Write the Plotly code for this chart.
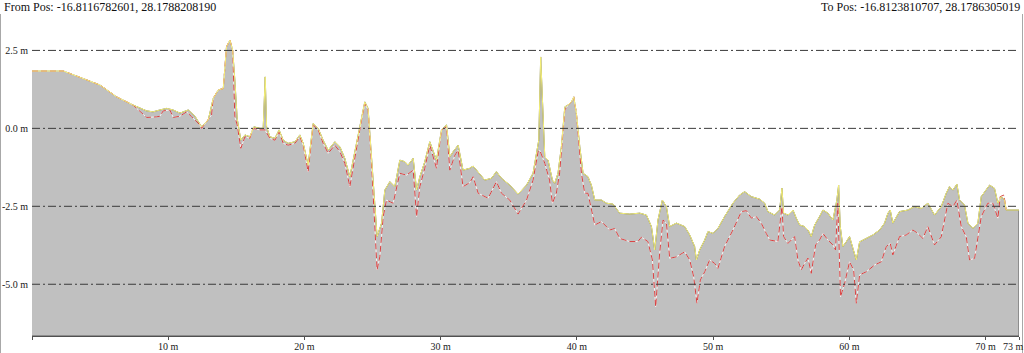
import plotly.graph_objects as go

# ---------------- data (metres) ----------------
DIST_TOP = [
    0.00, 2.30, 3.74, 4.99, 6.21, 7.41, 8.42, 8.88, 9.39, 9.88,
    10.35, 10.86, 11.47, 11.96, 12.45, 12.94, 13.30, 13.67, 14.04, 14.28,
    14.53, 14.73, 14.89, 15.06, 15.33, 15.63, 15.99, 16.29, 16.73, 16.97,
    17.12, 17.22, 17.46, 17.83, 18.14, 18.44, 18.80, 19.30, 19.66, 19.91,
    20.27, 20.64, 21.01, 21.37, 21.74, 22.23, 22.60, 22.96, 23.33, 23.70,
    24.19, 24.43, 24.67, 24.92, 25.17, 25.33, 25.66, 25.90, 26.27, 26.63,
    27.00, 27.37, 27.61, 27.98, 28.23, 28.47, 28.83, 29.20, 29.69, 30.06,
    30.43, 30.67, 30.91, 31.28, 31.64, 32.14, 32.38, 32.75, 33.24, 33.73,
    34.09, 34.46, 35.07, 35.68, 36.30, 36.78, 37.03, 37.20, 37.34, 37.47,
    37.64, 37.88, 38.20, 38.37, 38.61, 38.86, 39.11, 39.35, 39.60, 39.77,
    39.96, 40.21, 40.45, 40.81, 41.06, 41.31, 41.80, 42.16, 42.65, 43.14,
    43.87, 44.61, 45.10, 45.47, 45.71, 45.95, 46.27, 46.57, 46.81, 47.30,
    47.91, 48.28, 48.64, 48.77, 49.01, 49.38, 49.62, 49.99, 50.35, 50.84,
    51.45, 51.94, 52.31, 52.80, 53.41, 53.78, 54.02, 54.51, 54.88, 55.05,
    55.17, 55.49, 55.86, 56.10, 56.35, 56.71, 56.96, 57.20, 57.45, 57.81,
    58.06, 58.42, 58.79, 59.08, 59.21, 59.33, 59.52, 59.77, 60.01, 60.26,
    60.51, 60.75, 61.24, 61.72, 62.22, 62.58, 62.83, 63.00, 63.19, 63.68,
    64.29, 64.78, 65.28, 65.76, 66.25, 66.74, 67.11, 67.35, 67.60, 67.89,
    68.09, 68.45, 68.70, 69.06, 69.43, 69.68, 70.29, 70.65, 70.90, 71.15,
    71.39, 71.51, 72.45,
]
ELEV_TOP = [
    1.84, 1.84, 1.60, 1.39, 1.01, 0.75, 0.56, 0.53, 0.59, 0.64,
    0.59, 0.49, 0.59, 0.39, 0.05, 0.27, 0.96, 1.23, 1.28, 2.62,
    2.83, 2.51, 1.55, 0.32, -0.38, -0.21, -0.27, 0.05, 0.00, 0.00,
    1.65, 0.05, -0.27, -0.32, -0.05, -0.38, -0.48, -0.43, -0.21, -0.48,
    -1.18, 0.16, 0.00, -0.38, -0.70, -0.43, -0.59, -0.96, -1.55, -0.70,
    0.37, 0.85, 0.64, -0.91, -2.40, -3.47, -3.04, -1.98, -1.71, -1.87,
    -1.02, -1.07, -1.18, -0.96, -1.98, -1.55, -1.07, -0.43, -1.02, -0.05,
    0.11, -0.91, -0.75, -0.54, -1.34, -1.28, -1.21, -1.39, -1.66, -1.60,
    -1.39, -1.60, -1.82, -2.11, -1.82, -1.44, -0.80, -0.38, 2.29, 0.69,
    -0.91, -1.02, -1.66, -1.76, -1.44, -0.59, 0.69, 0.75, 0.85, 1.01,
    0.48, -0.59, -1.44, -1.55, -1.82, -2.30, -2.30, -2.40, -2.43, -2.72,
    -2.75, -2.72, -2.78, -3.15, -3.90, -2.94, -2.30, -2.51, -3.15, -3.04,
    -3.15, -3.42, -3.79, -4.22, -3.90, -3.58, -3.31, -3.37, -3.21, -2.83,
    -2.40, -2.14, -2.03, -2.19, -2.27, -2.40, -2.67, -2.78, -2.62, -1.92,
    -2.72, -2.78, -2.62, -2.88, -3.10, -3.15, -3.26, -3.47, -3.10, -2.83,
    -2.62, -2.72, -2.94, -2.30, -1.82, -3.15, -3.79, -3.64, -3.47, -3.85,
    -4.22, -3.64, -3.53, -3.42, -3.26, -3.04, -2.72, -2.62, -3.04, -2.67,
    -2.62, -2.51, -2.57, -2.40, -2.78, -2.51, -2.08, -1.87, -1.98, -1.79,
    -2.30, -2.46, -3.04, -3.21, -3.04, -2.19, -1.82, -1.92, -2.40, -2.19,
    -2.30, -2.62, -2.62,
]

DIST_BOT = [
    0.00, 2.30, 3.74, 4.99, 6.21, 7.41, 8.42, 8.88, 9.15, 9.39,
    9.63, 10.12, 10.37, 10.86, 11.35, 11.72, 12.33, 12.45, 12.82, 13.18,
    13.30, 13.67, 14.04, 14.28, 14.53, 14.73, 14.89, 15.06, 15.33, 15.63,
    15.99, 16.22, 16.73, 17.10, 17.46, 17.83, 18.14, 18.44, 18.80, 19.30,
    19.66, 19.91, 20.27, 20.64, 21.01, 21.37, 21.74, 22.23, 22.60, 22.96,
    23.33, 23.70, 24.19, 24.43, 24.67, 24.92, 25.17, 25.33, 25.53, 25.78,
    26.02, 26.51, 27.00, 27.49, 27.98, 28.23, 28.47, 28.83, 29.20, 29.69,
    30.06, 30.43, 30.67, 31.04, 31.28, 31.64, 32.14, 32.38, 32.75, 33.48,
    33.85, 34.09, 34.46, 35.07, 35.68, 36.30, 36.78, 37.15, 37.27, 37.64,
    37.99, 38.20, 38.49, 38.73, 39.11, 39.35, 39.60, 39.77, 39.96, 40.33,
    40.57, 40.81, 41.31, 41.80, 42.41, 42.77, 43.14, 43.87, 44.48, 44.73,
    45.21, 45.54, 45.78, 46.07, 46.32, 46.57, 46.81, 47.30, 47.91, 48.28,
    48.57, 48.81, 49.06, 49.38, 49.74, 50.11, 50.35, 50.84, 51.45, 52.07,
    52.44, 52.80, 53.17, 53.53, 53.90, 54.15, 54.75, 55.05, 55.17, 55.49,
    55.74, 55.98, 56.22, 56.47, 56.71, 56.96, 57.20, 57.52, 57.81, 58.06,
    58.42, 58.79, 58.98, 59.15, 59.35, 59.65, 60.01, 60.31, 60.51, 60.75,
    61.24, 61.86, 62.34, 62.71, 63.00, 63.19, 63.68, 64.17, 64.66, 65.00,
    65.39, 65.76, 66.25, 66.74, 67.23, 67.60, 67.89, 68.21, 68.58, 68.82,
    69.19, 69.43, 69.68, 70.16, 70.53, 70.90, 71.07, 71.34, 71.51,
]
ELEV_BOT = [
    1.84, 1.84, 1.60, 1.39, 1.01, 0.75, 0.35, 0.35, 0.37, 0.39,
    0.56, 0.59, 0.35, 0.39, 0.53, 0.37, 0.11, 0.00, 0.21, 0.43,
    0.96, 1.23, 1.28, 2.62, 2.83, 2.51, 0.37, 0.11, -0.64, -0.27,
    -0.32, 0.00, -0.05, -0.05, -0.32, -0.38, -0.11, -0.48, -0.54, -0.48,
    -0.27, -0.54, -1.39, 0.11, -0.05, -0.48, -0.80, -0.54, -0.75, -1.12,
    -1.87, -0.91, 0.27, 0.80, 0.59, -1.12, -3.26, -4.54, -4.12, -2.83,
    -2.30, -2.40, -1.44, -1.50, -1.34, -2.83, -1.87, -1.28, -0.54, -1.28,
    -0.05, 0.05, -1.34, -0.86, -0.70, -1.87, -1.74, -1.55, -2.08, -2.24,
    -1.92, -1.71, -2.08, -2.30, -2.75, -2.30, -1.66, -0.75, -0.70, -1.12,
    -1.66, -2.40, -2.08, -1.43, 0.59, 0.75, 0.85, 1.01, 0.48, -1.44,
    -2.08, -2.08, -3.10, -2.99, -3.26, -3.21, -3.53, -3.63, -3.63, -3.49,
    -3.63, -4.22, -5.72, -4.01, -2.94, -3.04, -4.17, -4.12, -3.96, -4.22,
    -4.76, -5.61, -4.86, -4.60, -4.22, -4.33, -4.49, -3.79, -3.26, -2.67,
    -2.64, -2.88, -2.83, -3.04, -3.37, -3.58, -3.63, -2.51, -3.47, -3.69,
    -3.58, -3.47, -4.22, -4.54, -4.33, -4.16, -4.65, -3.74, -3.58, -3.37,
    -3.58, -3.74, -3.90, -2.40, -5.40, -4.97, -4.28, -4.54, -5.61, -4.70,
    -4.60, -4.38, -4.28, -3.79, -3.69, -4.06, -3.47, -3.42, -3.26, -3.36,
    -3.53, -3.15, -3.74, -3.48, -2.40, -2.51, -2.30, -3.15, -3.48, -4.22,
    -4.17, -3.48, -2.83, -2.40, -2.40, -2.88, -2.19, -2.14, -2.62,
]

X_TICKS = [0, 10, 20, 30, 40, 50, 60, 70, 72.45]
X_TICK_TEXT = ["", "10 m", "20 m", "30 m", "40 m", "50 m", "60 m", "70 m", ""]
X_END_LABEL = "73 m"
Y_TICKS = [2.5, 0.0, -2.5, -5.0]
Y_TICK_TEXT = ["2.5 m", "0.0 m", "-2.5 m", "-5.0 m"]
Y_RANGE = [-6.66, 3.54]
FROM_TEXT = "From Pos: -16.8116782601, 28.1788208190"
TO_TEXT = "To Pos: -16.8123810707, 28.1786305019"

assert len(DIST_TOP) == len(ELEV_TOP)
assert len(DIST_BOT) == len(ELEV_BOT)

SERIF = "Liberation Serif"

fig = go.Figure()

# filled terrain polygon down to the axis floor
poly_x = DIST_TOP + [DIST_TOP[-1], DIST_TOP[0]]
poly_y = ELEV_TOP + [Y_RANGE[0], Y_RANGE[0]]
fig.add_trace(go.Scatter(
    x=poly_x, y=poly_y, fill="toself", fillcolor="#C0C0C0",
    mode="lines", line=dict(color="#5a5a5a", width=1),
    hoverinfo="skip", showlegend=False))

# lower profile: white underlay + red dashes
fig.add_trace(go.Scatter(
    x=DIST_BOT, y=ELEV_BOT, mode="lines",
    line=dict(color="#F4F4F4", width=1), hoverinfo="skip", showlegend=False))
fig.add_trace(go.Scatter(
    x=DIST_BOT, y=ELEV_BOT, mode="lines",
    line=dict(color="#D84040", width=1, dash="6px,3px"), showlegend=False))

# upper profile: yellow edge
fig.add_trace(go.Scatter(
    x=DIST_TOP, y=ELEV_TOP, mode="lines",
    line=dict(color="#F7F27A", width=1), showlegend=False))

# dash-dot gridlines drawn above the fill
shapes = []
for v in Y_TICKS:
    shapes.append(dict(type="line", xref="paper", yref="y", x0=0, x1=1, y0=v, y1=v,
                       layer="above", line=dict(color="#3a3a3a", width=1, dash="8px,3px,2px,3px")))
# thin window frame at the left and right edges of the picture
for px in (0.5, 1022.5):
    xp = (px - 32) / 987
    shapes.append(dict(type="line", xref="paper", yref="paper", x0=xp, x1=xp,
                       y0=-17 / 318, y1=(336 - 14) / 318, layer="above",
                       line=dict(color="#A8A8A8", width=1)))

fig.update_layout(
    width=1024, height=353,
    margin=dict(l=32, r=5, t=18, b=17, autoexpand=False),
    paper_bgcolor="white", plot_bgcolor="white",
    shapes=shapes,
    font=dict(family=SERIF, size=10, color="#1a1a1a"),
    xaxis=dict(range=[0, X_TICKS[-1]], tickmode="array", tickvals=X_TICKS, ticktext=X_TICK_TEXT,
               showgrid=False, zeroline=False, showline=True, linecolor="#505050", linewidth=1,
               ticks="outside", ticklen=3, tickcolor="#505050", tickwidth=1,
               ticklabelstandoff=-2,
               tickfont=dict(family=SERIF, size=10, color="#1a1a1a"), automargin=False),
    yaxis=dict(range=Y_RANGE, tickmode="array", tickvals=Y_TICKS, ticktext=Y_TICK_TEXT,
               showgrid=False, zeroline=False, showline=False, ticks="",
               ticklabelstandoff=3,
               tickfont=dict(family=SERIF, size=10, color="#1a1a1a"), automargin=False),
    annotations=[
        dict(text=FROM_TEXT, xref="paper", yref="paper", x=-30 / 987, y=1.036,
             xanchor="left", yanchor="middle", showarrow=False,
             font=dict(family=SERIF, size=12, color="#111")),
        dict(text=TO_TEXT, xref="paper", yref="paper", x=1.003, y=1.036,
             xanchor="right", yanchor="middle", showarrow=False,
             font=dict(family=SERIF, size=12, color="#111")),
        dict(text=X_END_LABEL, xref="paper", yref="paper", x=(1001 - 32) / 987, y=-0.034,
             xanchor="left", yanchor="middle", showarrow=False,
             font=dict(family=SERIF, size=10, color="#1a1a1a")),
    ],
)

fig.write_html("out.html")
